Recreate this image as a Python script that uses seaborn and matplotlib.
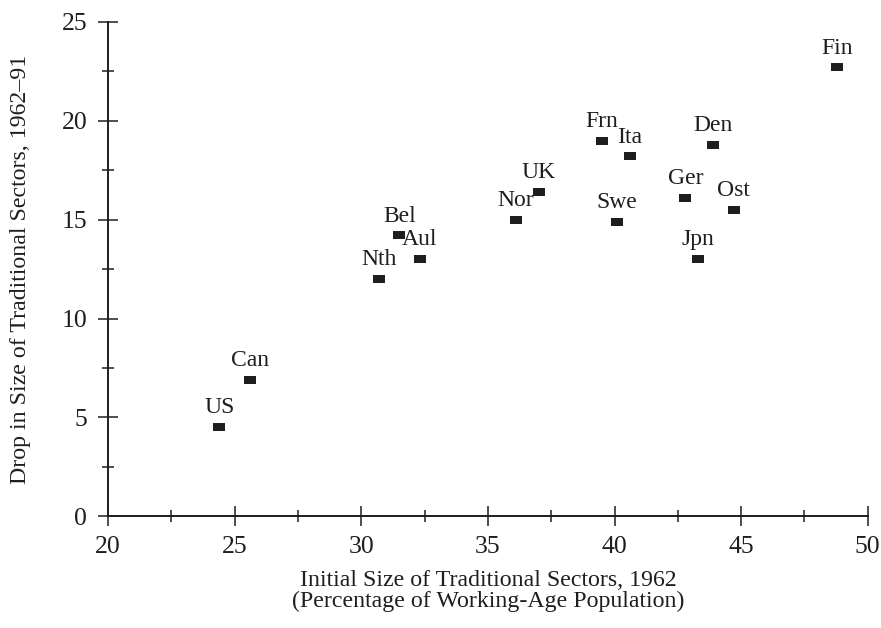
import matplotlib
matplotlib.use("Agg")
import matplotlib.pyplot as plt
from matplotlib.ticker import MultipleLocator
import pandas as pd
import seaborn as sns

# country codes and values
countries = ["US", "Can", "Nth", "Bel", "Aul", "Nor", "UK", "Frn", "Ita",
             "Swe", "Ger", "Den", "Ost", "Jpn", "Fin"]
initial_size = [24.4, 25.6, 30.7, 31.5, 32.3, 36.1, 37.0, 39.5, 40.6,
                40.1, 42.8, 43.9, 44.7, 43.3, 48.8]
drop_size = [4.5, 6.9, 12.0, 14.2, 13.0, 15.0, 16.4, 19.0, 18.2,
             14.9, 16.1, 18.8, 15.5, 13.0, 22.7]

df = pd.DataFrame({"country": countries, "initial": initial_size, "drop": drop_size})

sns.set_theme(style="white")
plt.rcParams["font.family"] = ["Liberation Serif", "DejaVu Serif"]
ink = "#1e1e1e"

fig, ax = plt.subplots(figsize=(8.81, 6.28), dpi=100)
fig.subplots_adjust(left=0.1226, right=0.985, bottom=0.178, top=0.965)

rect = [(-1.5, -1), (1.5, -1), (1.5, 1), (-1.5, 1), (-1.5, -1)]
sns.scatterplot(data=df, x="initial", y="drop", ax=ax, marker=rect, s=75,
                color=ink, linewidth=0, zorder=3)

for _, row in df.iterrows():
    ax.annotate(row["country"], (row["initial"], row["drop"]),
                xytext=(0, 10), textcoords="offset points",
                ha="center", va="baseline", fontsize=17, color=ink)

ax.set_xlim(20, 50)
ax.set_ylim(0, 25)
ax.xaxis.set_major_locator(MultipleLocator(5))
ax.xaxis.set_minor_locator(MultipleLocator(2.5))
ax.yaxis.set_major_locator(MultipleLocator(5))
ax.yaxis.set_minor_locator(MultipleLocator(2.5))

for side in ["top", "right"]:
    ax.spines[side].set_visible(False)
for side in ["left", "bottom"]:
    ax.spines[side].set_color(ink)
    ax.spines[side].set_linewidth(1.4)

ax.tick_params(which="major", direction="inout", length=14, width=1.1,
               color=ink, labelsize=18.5, labelcolor=ink)
ax.tick_params(axis="x", which="major", pad=7)
ax.tick_params(axis="y", which="major", pad=8)
ax.tick_params(which="minor", direction="inout", length=8, width=1.1, color=ink)
ax.tick_params(axis="both", which="both", bottom=True, left=True)

ax.set_xlabel("Initial Size of Traditional Sectors, 1962\n(Percentage of Working-Age Population)",
              fontsize=17.2, color=ink, linespacing=0.95, labelpad=9)
ax.set_ylabel("Drop in Size of Traditional Sectors, 1962\u201391",
              fontsize=17.2, color=ink, labelpad=22)

fig.savefig("out.png", dpi=100)
